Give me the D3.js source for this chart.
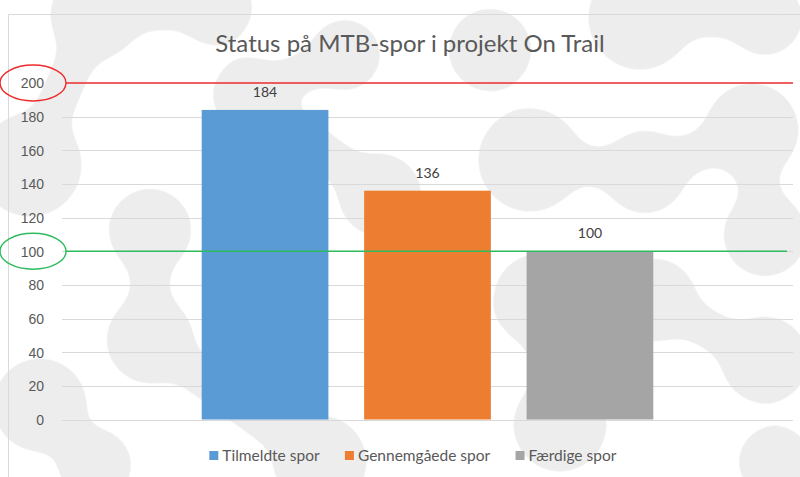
<!DOCTYPE html>
<html>
<head>
<meta charset="utf-8">
<script src="https://cdn.jsdelivr.net/npm/d3@7"></script>
<style>
	body { margin: 0; background: #fff; }
	svg { display: block; font-family: Lato, "Open Sans", sans-serif; }
	.tick text { fill: #595959; font-size: 14px; }
	.grid line { stroke: #d9d9d9; }
</style>
</head>
<body>
<div id="chart"></div>
<script>
// data
var categories = [''];
var series     = ['Tilmeldte spor', 'Gennemgåede spor', 'Færdige spor'];
var values     = [184, 136, 100];
var colors     = ['#5b9bd5', '#ed7d31', '#a5a5a5'];
var yTicks     = [0, 20, 40, 60, 80, 100, 120, 140, 160, 180, 200];
var title      = 'Status på MTB-spor i projekt On Trail';
var marks      = [{value: 200, color: '#ee2a2a'}, {value: 100, color: '#2dbb5e'}];

// background blob pattern (decoration)
var blobs = [
	[95, 15, 45], [215, 8, 38], [250, 95, 38], [345, 55, 36],
	[30, 165, 52], [150, 230, 42], [150, 340, 44], [40, 405, 47],
	[95, 465, 37], [320, 462, 47], [380, 195, 42], [490, 50, 42],
	[640, 18, 52], [765, 18, 38], [530, 160, 52], [645, 172, 42],
	[752, 130, 47], [765, 235, 42], [540, 300, 47], [655, 300, 42],
	[560, 425, 47], [765, 360, 44], [775, 462, 37], [440, 330, 37]
];
var links = [[0, 1], [2, 3], [5, 6], [7, 8], [12, 13], [14, 15], [16, 17], [18, 19], [0, 4], [6, 9], [2, 10], [15, 16], [19, 21], [20, 18]];

var width = 800, height = 477;
var margin = {top: 83, right: 7, bottom: 57, left: 62};

var svg = d3.select('#chart').append('svg')
	.attr('width', width)
	.attr('height', height);

var defs = svg.append('defs');
var goo = defs.append('filter')
	.attr('id', 'goo')
	.attr('filterUnits', 'userSpaceOnUse')
	.attr('x', -50).attr('y', -50).attr('width', width + 100).attr('height', height + 100);
goo.append('feGaussianBlur').attr('in', 'SourceGraphic').attr('stdDeviation', 12).attr('result', 'blur');
goo.append('feColorMatrix').attr('in', 'blur').attr('mode', 'matrix')
	.attr('values', '1 0 0 0 0  0 1 0 0 0  0 0 1 0 0  0 0 0 20 -9');

var bg = svg.append('g').attr('filter', 'url(#goo)');
bg.selectAll('line')
	.data(links)
	.enter().append('line')
	.attr('x1', function(d) { return blobs[d[0]][0]; })
	.attr('y1', function(d) { return blobs[d[0]][1]; })
	.attr('x2', function(d) { return blobs[d[1]][0]; })
	.attr('y2', function(d) { return blobs[d[1]][1]; })
	.attr('stroke', '#ededed')
	.attr('stroke-width', 36);
bg.selectAll('circle')
	.data(blobs)
	.enter().append('circle')
	.attr('cx', function(d) { return d[0]; })
	.attr('cy', function(d) { return d[1]; })
	.attr('r', function(d) { return d[2]; })
	.attr('fill', '#ededed');

// chart border
svg.append('path')
	.attr('d', 'M8.5,' + height + 'V14.5H' + width)
	.attr('fill', 'none')
	.attr('stroke', '#d9d9d9');

var x0 = d3.scaleBand()
	.domain(categories)
	.range([margin.left, width - margin.right])
	.paddingInner(0)
	.paddingOuter(0.25);

var x1 = d3.scaleBand()
	.domain(series)
	.range([0, x0.bandwidth()])
	.paddingInner(0.22)
	.paddingOuter(0.11);

var y = d3.scaleLinear()
	.domain([0, 200])
	.range([height - margin.bottom - 0.5, margin.top]);

// grid
svg.append('g')
	.attr('class', 'grid')
	.selectAll('line')
	.data(yTicks.filter(function(d) { return d < 200; }))
	.enter().append('line')
	.attr('x1', margin.left)
	.attr('x2', width - margin.right)
	.attr('y1', function(d) { return Math.round(y(d)) + 0.5; })
	.attr('y2', function(d) { return Math.round(y(d)) + 0.5; });

// y axis labels
var yAxis = d3.axisLeft(y)
	.tickValues(yTicks)
	.tickSize(0)
	.tickPadding(18);
var ya = svg.append('g')
	.attr('transform', 'translate(' + margin.left + ',0)')
	.call(yAxis);
ya.select('.domain').remove();
ya.selectAll('text').attr('dy', '0.35em');

// bars
var group = svg.append('g')
	.selectAll('g')
	.data(categories)
	.enter().append('g')
	.attr('transform', function(d) { return 'translate(' + x0(d) + ',0)'; });

group.selectAll('rect')
	.data(function() { return series.map(function(s, i) { return {key: s, value: values[i], color: colors[i]}; }); })
	.enter().append('rect')
	.attr('x', function(d) { return x1(d.key); })
	.attr('width', x1.bandwidth())
	.attr('y', function(d) { return y(d.value); })
	.attr('height', function(d) { return y(0) - y(d.value); })
	.attr('fill', function(d) { return d.color; });

group.selectAll('text.label')
	.data(function() { return series.map(function(s, i) { return {key: s, value: values[i]}; }); })
	.enter().append('text')
	.attr('class', 'label')
	.attr('x', function(d) { return x1(d.key) + x1.bandwidth() / 2; })
	.attr('y', function(d) { return y(d.value) - 13; })
	.attr('text-anchor', 'middle')
	.attr('fill', '#404040')
	.style('font-size', '14px')
	.text(function(d) { return d.value; });

// marker lines and circled labels
var mk = svg.append('g').selectAll('g')
	.data(marks)
	.enter().append('g');
mk.append('line')
	.attr('x1', 66)
	.attr('x2', function(d, i) { return i === 0 ? width - margin.right : width - 13; })
	.attr('y1', function(d) { return y(d.value); })
	.attr('y2', function(d) { return y(d.value); })
	.attr('stroke', function(d) { return d.color; })
	.attr('stroke-width', 1.6);
mk.append('ellipse')
	.attr('cx', 33)
	.attr('cy', function(d) { return y(d.value); })
	.attr('rx', 33)
	.attr('ry', 18)
	.attr('fill', 'none')
	.attr('stroke', function(d) { return d.color; })
	.attr('stroke-width', 1.4);

// title
svg.append('text')
	.attr('x', 410)
	.attr('y', 52)
	.attr('text-anchor', 'middle')
	.attr('fill', '#595959')
	.style('font-size', '24px')
	.text(title);

// legend
var legend = svg.append('g')
	.attr('transform', 'translate(0,' + 456 + ')');
var item = legend.selectAll('g')
	.data(series)
	.enter().append('g');
item.append('rect')
	.attr('y', -5)
	.attr('width', 9)
	.attr('height', 9)
	.attr('fill', function(d, i) { return colors[i]; });
item.append('text')
	.attr('x', 13)
	.attr('dy', '0.35em')
	.attr('fill', '#595959')
	.style('font-size', '15.5px')
	.text(function(d) { return d; });

var offs = [], total = 0;
item.each(function() {
	var w = this.getBBox().width;
	offs.push(total);
	total += w + 25;
});
total -= 25;
item.attr('transform', function(d, i) { return 'translate(' + (413 - total / 2 + offs[i]) + ',0)'; });
</script>
</body>
</html>
